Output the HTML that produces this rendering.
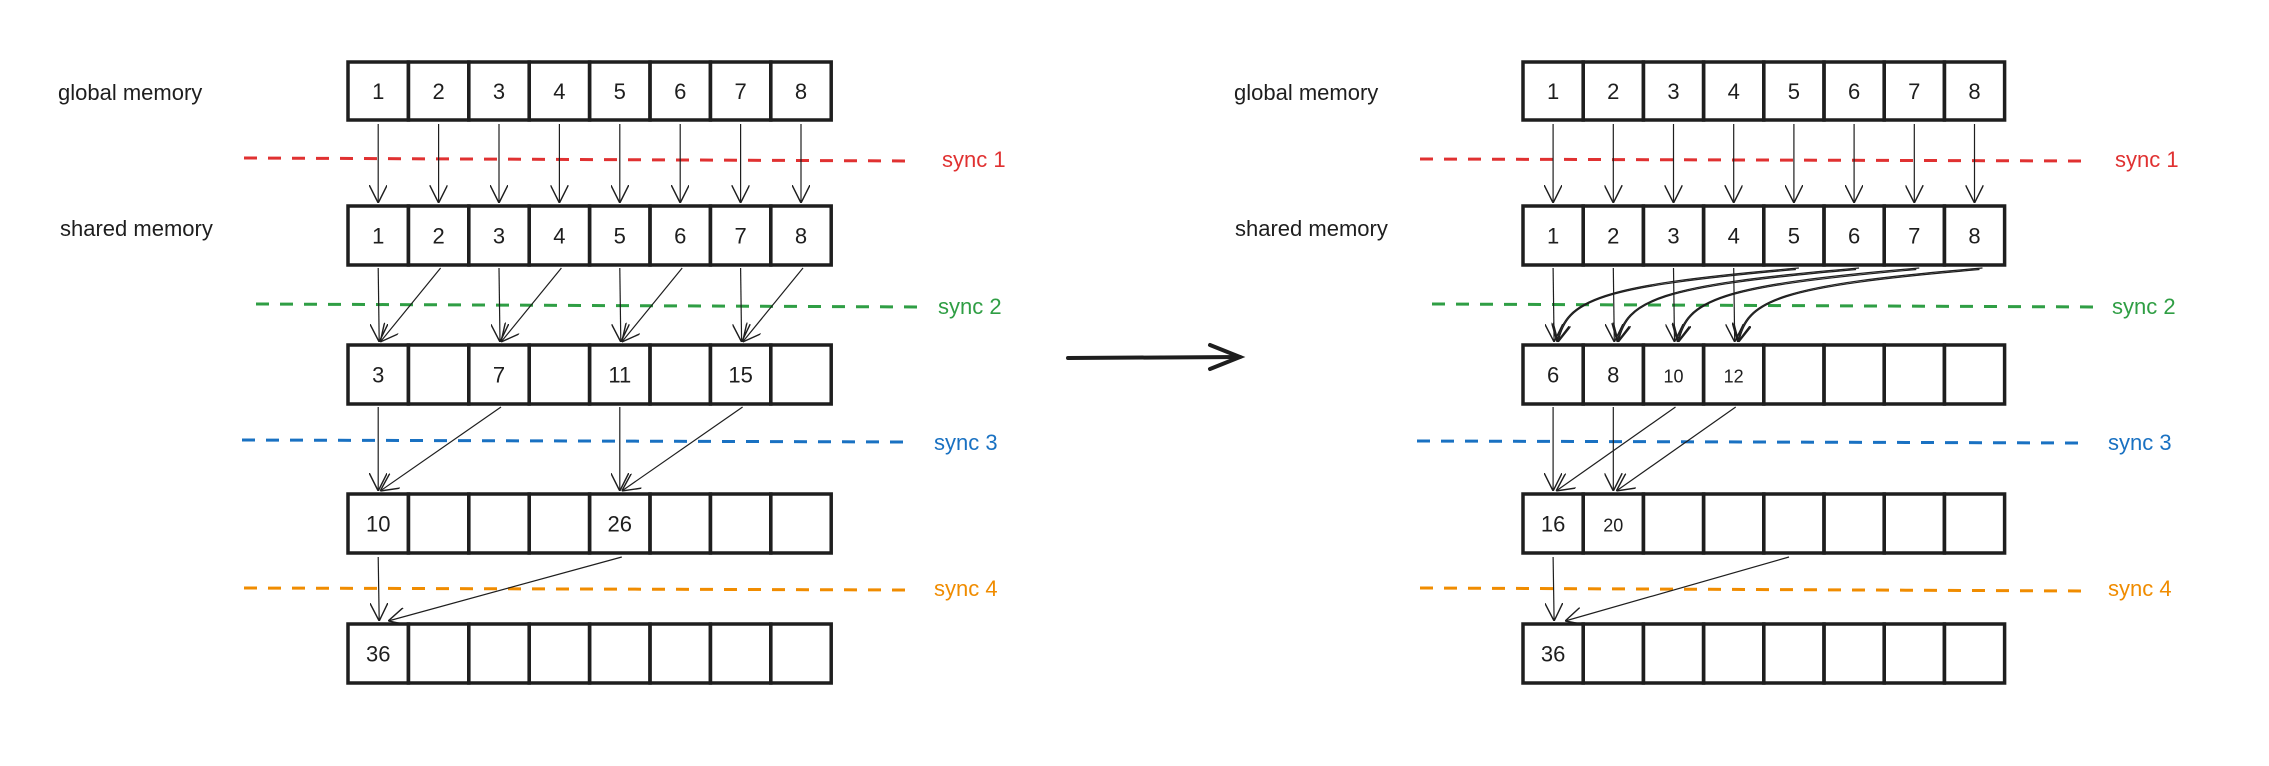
<!DOCTYPE html>
<html><head><meta charset="utf-8"><style>
html,body{margin:0;padding:0;background:#fff;}
svg{display:block;}
text{font-family:"Liberation Sans",sans-serif;}
</style></head><body>
<svg width="2269" height="766" viewBox="0 0 2269 766" xmlns="http://www.w3.org/2000/svg">
<defs>
<marker id="ah" markerWidth="18" markerHeight="18" refX="10" refY="5" orient="auto" markerUnits="userSpaceOnUse" viewBox="0 0 10 10">
<path d="M0,0 L10,5 L0,10" fill="none" stroke="#1e1e1e" stroke-width="0.8"/>
</marker>
</defs>
<rect width="2269" height="766" fill="#fff"/>

<g font-size="22" fill="#1e1e1e">
<text x="58" y="100">global memory</text>
<text x="60" y="236">shared memory</text>
<text x="1234" y="100">global memory</text>
<text x="1235" y="236">shared memory</text>
</g>

<g stroke-width="3" stroke-dasharray="13 11" fill="none">
<line x1="244" y1="158" x2="912" y2="161" stroke="#e03131"/>
<line x1="256" y1="304" x2="925" y2="307" stroke="#2f9e44"/>
<line x1="242" y1="440" x2="909" y2="442" stroke="#1971c2"/>
<line x1="244" y1="588" x2="909" y2="590" stroke="#f08c00"/>
<line x1="1420" y1="159" x2="2085" y2="161" stroke="#e03131"/>
<line x1="1432" y1="304" x2="2098" y2="307" stroke="#2f9e44"/>
<line x1="1417" y1="441" x2="2085" y2="443" stroke="#1971c2"/>
<line x1="1420" y1="588" x2="2085" y2="591" stroke="#f08c00"/>
</g>
<g font-size="22">
<text x="942" y="167" fill="#e03131">sync 1</text>
<text x="938" y="314" fill="#2f9e44">sync 2</text>
<text x="934" y="450" fill="#1971c2">sync 3</text>
<text x="934" y="596" fill="#f08c00">sync 4</text>
<text x="2115" y="167" fill="#e03131">sync 1</text>
<text x="2112" y="314" fill="#2f9e44">sync 2</text>
<text x="2108" y="450" fill="#1971c2">sync 3</text>
<text x="2108" y="596" fill="#f08c00">sync 4</text>
</g>

<g stroke="#1e1e1e" stroke-width="4" fill="none" stroke-linecap="round">
<line x1="1068" y1="358" x2="1240" y2="357"/>
<path d="M1210,345 L1240,357 L1210,369"/>
</g>

<g id="boxes" stroke="#1e1e1e" stroke-width="3.5" fill="none"></g>
<g id="nums" font-size="22" fill="#1e1e1e" text-anchor="middle"></g>
<g id="arrows" stroke="#1e1e1e" stroke-width="1.2" fill="none"></g>

<script>
(function(){
var NS="http://www.w3.org/2000/svg";
var B=document.getElementById('boxes'),N=document.getElementById('nums'),A=document.getElementById('arrows');
var rows=[[62,120],[206,265],[345,404],[494,553],[624,683]];
function el(tag,attrs,parent,txt){var e=document.createElementNS(NS,tag);for(var k in attrs)e.setAttribute(k,attrs[k]);if(txt!==undefined)e.textContent=txt;parent.appendChild(e);return e;}
function grid(x0,w,labels){
 for(var r=0;r<5;r++){
  for(var i=0;i<8;i++){
   el('rect',{x:x0+w*i,y:rows[r][0],width:w,height:rows[r][1]-rows[r][0]},B);
   var t=labels[r][i];
   if(t) el('text',{x:x0+w*i+w/2,y:(rows[r][0]+rows[r][1])/2+8,'font-size':(t.length>1&&r>0&&x0>1000&&t!=='16'&&t!=='36')?18:22},N,t);
  }
 }
}
var L=[["1","2","3","4","5","6","7","8"],["1","2","3","4","5","6","7","8"],["3","","7","","11","","15",""],["10","","","","26","","",""],["36","","","","","","",""]];
var R=[["1","2","3","4","5","6","7","8"],["1","2","3","4","5","6","7","8"],["6","8","10","12","","","",""],["16","20","","","","","",""],["36","","","","","","",""]];
var lx=348,lw=60.4,rx=1523,rw=60.2;
grid(lx,lw,L);grid(rx,rw,R);
function line(x1,y1,x2,y2){el('line',{x1:x1,y1:y1,x2:x2,y2:y2,'marker-end':'url(#ah)'},A);}
function c(x0,w,i){return x0+w*i+w/2;}
for(var i=0;i<8;i++){line(c(lx,lw,i),124,c(lx,lw,i),203);line(c(rx,rw,i),124,c(rx,rw,i),203);}
for(var i=0;i<8;i+=2){var t=c(lx,lw,i);line(t,268,t+1,342);line(c(lx,lw,i+1)+2,268,t+2,342);}
[0,4].forEach(function(i){var t=c(lx,lw,i);line(t,407,t,491);line(c(lx,lw,i+2)+2,407,t+2,491);});
line(c(lx,lw,0),557,c(lx,lw,0)+1,621);line(c(lx,lw,4)+2,557,c(lx,lw,0)+10,621);
for(var i=0;i<4;i++){var t=c(rx,rw,i);line(t,268,t+1,342);
 var sx=c(rx,rw,i+4)+(i==3?8:5),ex=t+4;
 for(var k=0;k<2;k++){el('path',{d:'M'+(sx-k*3)+','+(268+k*1.5)+' C'+(ex+40)+','+(285+k*2)+' '+(ex+8+k*2)+','+(300)+' '+(ex+k)+',342','marker-end':'url(#ah)'},A);}
}
[0,1].forEach(function(i){var t=c(rx,rw,i);line(t,407,t,491);line(c(rx,rw,i+2)+2,407,t+3,491);});
line(c(rx,rw,0),557,c(rx,rw,0)+1,621);line(1789,557,c(rx,rw,0)+12,621);
})();
</script>
</svg>
</body></html>
